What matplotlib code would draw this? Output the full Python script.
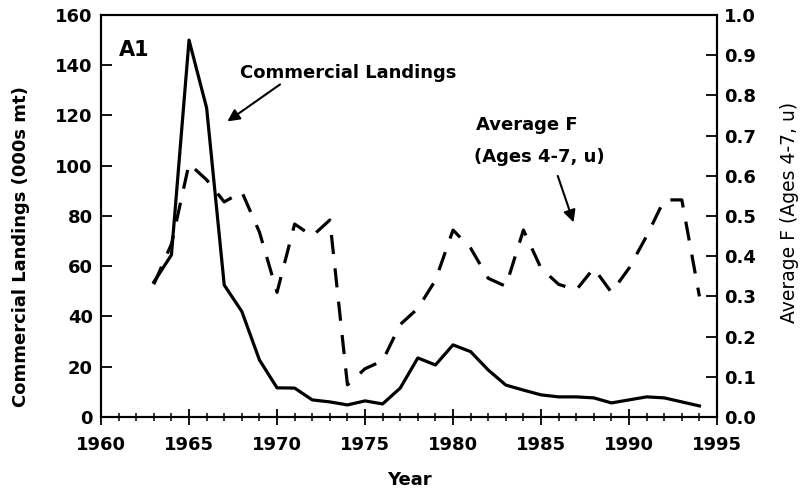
import numpy as np
import matplotlib.pyplot as plt
from matplotlib.ticker import MultipleLocator

plt.rcParams['font.family'] = ['DejaVu Sans']

# 数据
years = np.arange(1963, 1995)
landings = [53.7, 64.5, 150, 123, 52.5, 42, 22.7, 11.6, 11.5, 6.8,
            6.0, 4.8, 6.4, 5.2, 11.5, 23.5, 20.7, 28.7, 26.0, 18.7,
            12.7, 10.7, 8.8, 8.0, 8.0, 7.6, 5.6, 6.8, 8.0, 7.6,
            6.0, 4.4]
avg_f = [0.33, 0.43, 0.63, 0.59, 0.535, 0.56, 0.46, 0.31, 0.48, 0.45,
         0.49, 0.08, 0.12, 0.14, 0.23, 0.27, 0.34, 0.465, 0.42, 0.345,
         0.325, 0.465, 0.37, 0.33, 0.316, 0.37, 0.31, 0.37, 0.45, 0.54,
         0.54, 0.30]

left_ticks = np.arange(0, 161, 20)
right_ticks = np.arange(0, 1.01, 0.1)
x_ticks = np.arange(1960, 1996, 5)

fig = plt.figure(figsize=(8.07, 4.93), dpi=100)
ax = fig.add_axes([0.1252, 0.1542, 0.7633, 0.8154])
ax2 = ax.twinx()

ax.plot(years, landings, color='black', lw=2.3, solid_joinstyle='round')
ax2.plot(years, avg_f, color='black', lw=2.3, dashes=(6, 4.5))

ax.set_xlim(1960, 1995)
ax.set_ylim(0, 160)
ax2.set_ylim(0, 1.0)

tick_font = dict(fontsize=13, fontweight='bold')
ax.set_xticks(x_ticks)
ax.set_xticklabels([str(v) for v in x_ticks], **tick_font)
ax.xaxis.set_minor_locator(MultipleLocator(1))
ax.set_yticks(left_ticks)
ax.set_yticklabels([str(v) for v in left_ticks], **tick_font)
ax2.set_yticks(right_ticks)
ax2.set_yticklabels([f"{v:.1f}" for v in right_ticks], **tick_font)

ax.tick_params(axis='x', which='major', direction='inout', length=12, width=1.3, pad=8)
ax.tick_params(axis='x', which='minor', direction='inout', length=6, width=1.1)
ax.tick_params(axis='y', direction='in', length=8, width=1.3, pad=6)
ax2.tick_params(axis='y', direction='in', length=8, width=1.3, pad=5)

for a in (ax, ax2):
    for s in a.spines.values():
        s.set_linewidth(1.5)

ax.set_xlabel("Year", fontsize=13, fontweight='bold')
ax.xaxis.set_label_coords(0.5, -0.134)
ax.set_ylabel("Commercial Landings (000s mt)", fontsize=13, fontweight='bold')
ax.yaxis.set_label_coords(-0.116, 0.423)
ax2.set_ylabel("Average F (Ages 4-7, u)", fontsize=13.5, rotation=90)
ax2.yaxis.set_label_coords(1.102, 0.51)

# 标注
ax.text(1961.0, 146, "A1", fontsize=15, fontweight='bold', va='center', ha='left')
ax.text(1967.9, 137, "Commercial Landings", fontsize=13, fontweight='bold', va='center', ha='left')
ax.annotate("", xy=(1967.05, 117), xytext=(1970.3, 133),
            arrowprops=dict(arrowstyle='-|>', color='black', lw=1.5, mutation_scale=18))
ax.text(1981.3, 116.2, "Average F", fontsize=13, fontweight='bold', va='center', ha='left')
ax.text(1981.2, 103.5, "(Ages 4-7, u)", fontsize=13, fontweight='bold', va='center', ha='left')
ax.annotate("", xy=(1986.9, 76.4), xytext=(1985.9, 97),
            arrowprops=dict(arrowstyle='-|>', color='black', lw=1.5, mutation_scale=18))

fig.savefig("out.png", dpi=100)
